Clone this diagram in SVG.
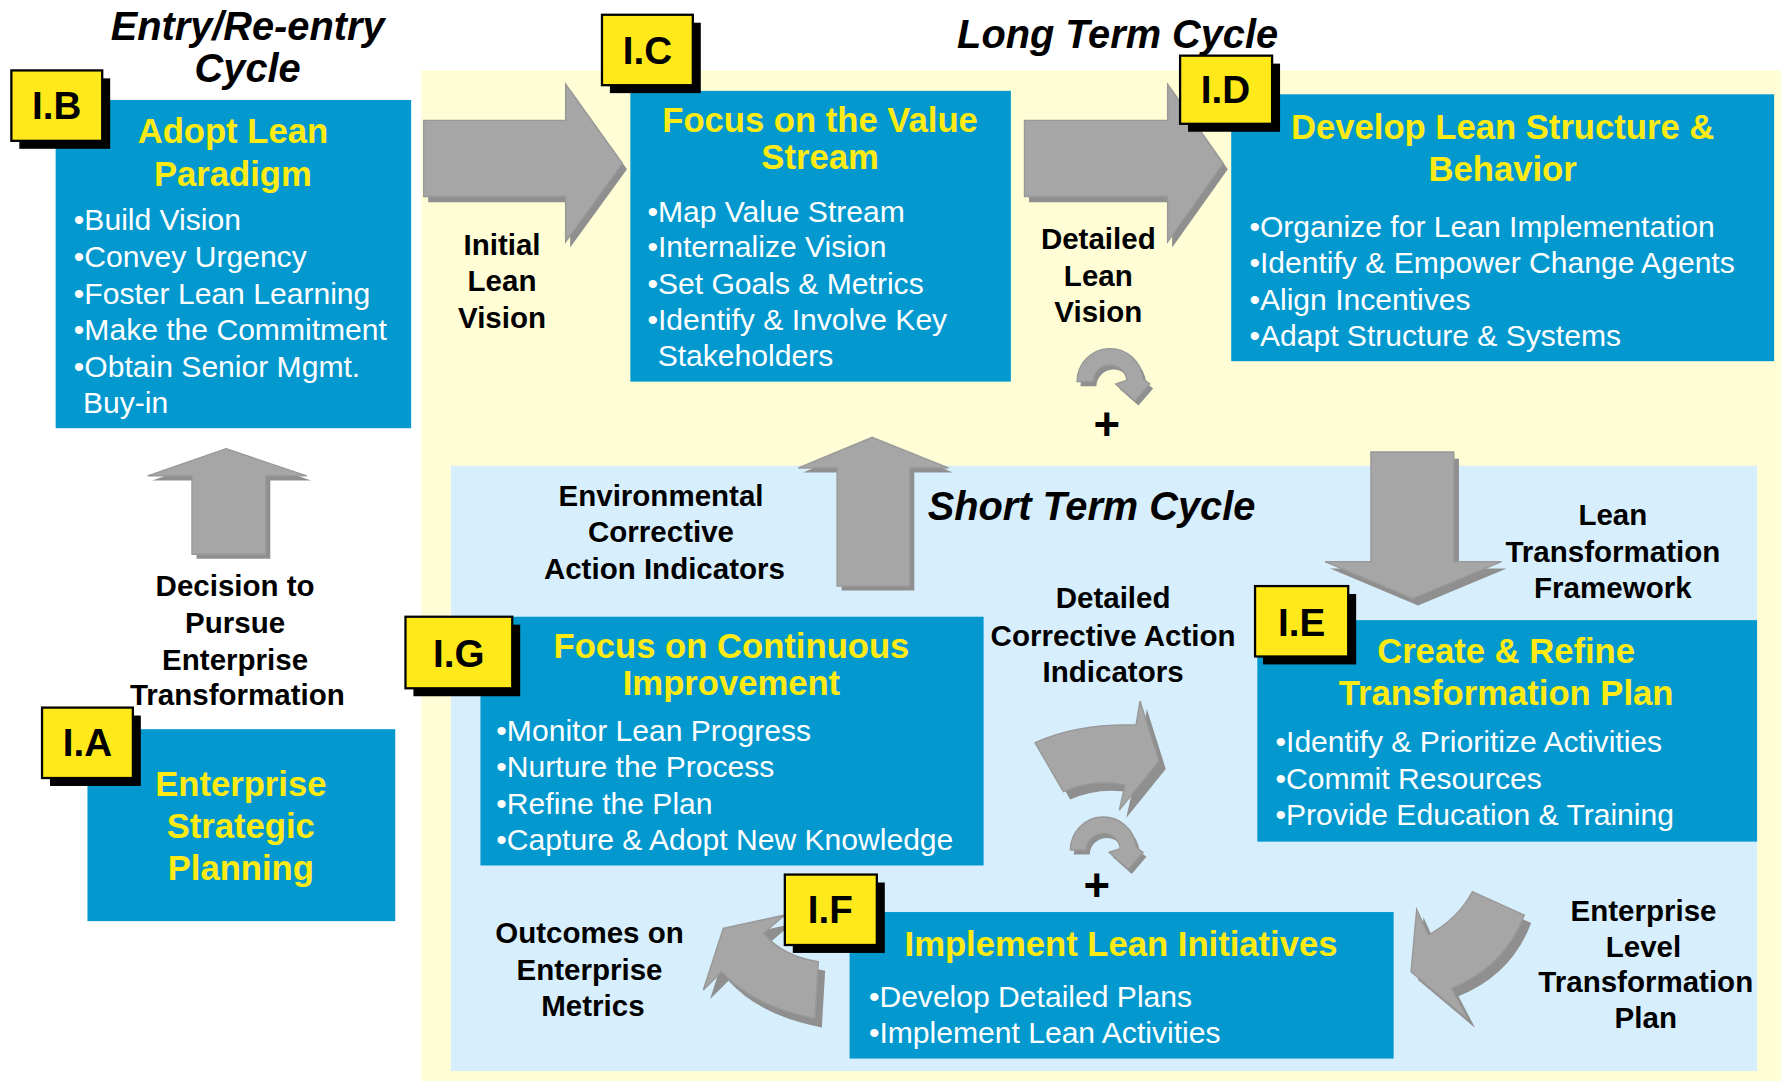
<svg xmlns="http://www.w3.org/2000/svg" width="1781" height="1081" viewBox="0 0 1781 1081">
<style>
text{font-family:"Liberation Sans",Arial,Helvetica,sans-serif}
.box{fill:#0399CF}
.tag{fill:#FFE91A;stroke:#000;stroke-width:2}
.tagsh{fill:#000}
.tagtxt{font-weight:bold;font-size:34px;fill:#000;text-anchor:middle}
.ttl{font-weight:bold;font-size:30.5px;fill:#FFEB14;text-anchor:middle}
.bul{font-size:26.5px;fill:#FFFFFF}
.lbl{font-weight:bold;font-size:26px;fill:#000;text-anchor:middle}
.cyc{font-weight:bold;font-style:italic;font-size:35px;fill:#000;text-anchor:middle}
.plus{font-weight:bold;font-size:40px;fill:#000;text-anchor:middle}
.arr{fill:#A6A6A6;stroke:#989898;stroke-width:1.2;stroke-linejoin:miter}
.arrsh{fill:#8F8F8F}
</style>
<defs>
<path id="uturn" d="M-29,0 A29,29 0 0 1 28.9,-2.5 L35,2 L22,17 L5,2 L14.9,-1.3 A15,15 0 0 0 -15,0 Z"/>
</defs>
<rect width="1781" height="1081" fill="#FFFFFF"/>
<g transform="scale(1.1358)">
<g id="backgrounds">
<rect x="371" y="62" width="1197" height="890" fill="#FFFDD6"/>
<rect x="397" y="410" width="1150" height="533" fill="#D7EEFC"/>
</g>
<g id="titles">
<text class="cyc" x="218" y="35">Entry/Re-entry</text>
<text class="cyc" x="218" y="72">Cycle</text>
<text class="cyc" x="984" y="42">Long Term Cycle</text>
<text class="cyc" x="961" y="458">Short Term Cycle</text>
</g>
<g id="connectors">
<g id="arrow-IB-IC">
<path class="arrsh" transform="translate(4,5)" d="M373,106 L498,106 L498,74 L548,144 L498,213 L498,173 L373,173 Z"/>
<path class="arr" d="M373,106 L498,106 L498,74 L548,144 L498,213 L498,173 L373,173 Z"/>
<text class="lbl" x="442" y="224.5">Initial</text>
<text class="lbl" x="442" y="256.5">Lean</text>
<text class="lbl" x="442" y="288.5">Vision</text>
</g>
<g id="arrow-IC-ID">
<path class="arrsh" transform="translate(4,5)" d="M902,106 L1028,106 L1028,74 L1077,144 L1028,213 L1028,173 L902,173 Z"/>
<path class="arr" d="M902,106 L1028,106 L1028,74 L1077,144 L1028,213 L1028,173 L902,173 Z"/>
<text class="lbl" x="967" y="219.5">Detailed</text>
<text class="lbl" x="967" y="251.5">Lean</text>
<text class="lbl" x="967" y="283.5">Vision</text>
<use href="#uturn" class="arrsh" transform="translate(980.3,340)"/>
<use href="#uturn" class="arr" transform="translate(977.3,336)"/>
<text class="plus" x="974.4" y="387">+</text>
</g>
<g id="arrow-IA-IB">
<path class="arrsh" transform="translate(4,4)" d="M199,395 L270,419 L234,419 L234,488 L169,488 L169,419 L130,419 Z"/>
<path class="arr" d="M199,395 L270,419 L234,419 L234,488 L169,488 L169,419 L130,419 Z"/>
<text class="lbl" x="207" y="524.5">Decision to</text>
<text class="lbl" x="207" y="557.5">Pursue</text>
<text class="lbl" x="207" y="589.5">Enterprise</text>
<text class="lbl" x="209" y="620.5">Transformation</text>
</g>
<g id="arrow-IG-IC">
<path class="arrsh" transform="translate(4,4)" d="M768,385 L835,412 L801,412 L801,516 L737,516 L737,412 L703,412 Z"/>
<path class="arr" d="M768,385 L835,412 L801,412 L801,516 L737,516 L737,412 L703,412 Z"/>
<text class="lbl" x="582" y="445.5">Environmental</text>
<text class="lbl" x="582" y="477.5">Corrective</text>
<text class="lbl" x="585" y="509.5">Action Indicators</text>
</g>
<g id="arrow-ID-IE">
<path class="arrsh" transform="translate(4.5,6)" d="M1207,398 L1280,398 L1280,494.5 L1322,494.5 L1244,527 L1166.6,494.5 L1207,494.5 Z"/>
<path class="arr" d="M1207,398 L1280,398 L1280,494.5 L1322,494.5 L1244,527 L1166.6,494.5 L1207,494.5 Z"/>
<text class="lbl" x="1420" y="462.5">Lean</text>
<text class="lbl" x="1420" y="494.5">Transformation</text>
<text class="lbl" x="1420" y="526.5">Framework</text>
</g>
<g id="arrow-IG-IE">
<path class="arrsh" transform="translate(6,7)" d="M911.3,653.9 Q947.9,636.9 1000.2,638.3 L1003.7,617.2 L1020.4,670 L985.5,713.2 L990.5,691.1 Q962.6,685.3 936.2,697 Z"/>
<path class="arr" d="M911.3,653.9 Q947.9,636.9 1000.2,638.3 L1003.7,617.2 L1020.4,670 L985.5,713.2 L990.5,691.1 Q962.6,685.3 936.2,697 Z"/>
<text class="lbl" x="980" y="535.5">Detailed</text>
<text class="lbl" x="980" y="568.5">Corrective Action</text>
<text class="lbl" x="980" y="600.5">Indicators</text>
<use href="#uturn" class="arrsh" transform="translate(974.4,752.4)"/>
<use href="#uturn" class="arr" transform="translate(971.4,748.4)"/>
<text class="plus" x="965.6" y="793">+</text>
</g>
<g id="arrow-IE-IF">
<path class="arrsh" transform="translate(6,7)" d="M1296.3,785.1 L1342.1,805.6 Q1325.1,851.1 1278.1,870.2 L1292.8,898 L1242.3,855.5 L1247.3,800.6 L1257.6,823.2 Q1284,808.5 1296.3,785.1 Z"/>
<path class="arr" d="M1296.3,785.1 L1342.1,805.6 Q1325.1,851.1 1278.1,870.2 L1292.8,898 L1242.3,855.5 L1247.3,800.6 L1257.6,823.2 Q1284,808.5 1296.3,785.1 Z"/>
<text class="lbl" x="1447" y="810.5">Enterprise</text>
<text class="lbl" x="1447" y="842.5">Level</text>
<text class="lbl" x="1449" y="873.5">Transformation</text>
<text class="lbl" x="1449" y="905.5">Plan</text>
</g>
<g id="arrow-IF-IG">
<path class="arrsh" transform="translate(6,8)" d="M691.1,805.6 L636.8,817.3 L619.2,871.6 L635.4,855.5 Q663.2,886.3 717.6,896.6 L720.5,846.7 Q689.7,842.3 672.1,821.7 Z"/>
<path class="arr" d="M691.1,805.6 L636.8,817.3 L619.2,871.6 L635.4,855.5 Q663.2,886.3 717.6,896.6 L720.5,846.7 Q689.7,842.3 672.1,821.7 Z"/>
<text class="lbl" x="519" y="830.5">Outcomes on</text>
<text class="lbl" x="519" y="862.5">Enterprise</text>
<text class="lbl" x="522" y="894.5">Metrics</text>
</g>
</g>
<g id="node-IA">
<rect class="box" x="77" y="642" width="271" height="169"/>
<rect class="tagsh" x="44" y="630" width="80" height="62"/>
<rect class="tag" x="37" y="623" width="80" height="62"/>
<text class="tagtxt" x="77" y="666">I.A</text>
<text class="ttl" x="212" y="701">Enterprise</text>
<text class="ttl" x="212" y="738">Strategic</text>
<text class="ttl" x="212" y="775">Planning</text>
</g>
<g id="node-IB">
<rect class="box" x="49" y="88" width="313" height="289"/>
<rect class="tagsh" x="17" y="69" width="80" height="62"/>
<rect class="tag" x="10" y="62" width="80" height="62"/>
<text class="tagtxt" x="50" y="105">I.B</text>
<text class="ttl" x="205" y="126">Adopt Lean</text>
<text class="ttl" x="205" y="164">Paradigm</text>
<text class="bul" x="65" y="202.5">•Build Vision</text>
<text class="bul" x="65" y="235.5">•Convey Urgency</text>
<text class="bul" x="65" y="267.5">•Foster Lean Learning</text>
<text class="bul" x="65" y="299.5">•Make the Commitment</text>
<text class="bul" x="65" y="331.5">•Obtain Senior Mgmt.</text>
<text class="bul" x="73" y="363.5">Buy-in</text>
</g>
<g id="node-IC">
<rect class="box" x="555" y="80" width="335" height="256"/>
<rect class="tagsh" x="537" y="20" width="80" height="62"/>
<rect class="tag" x="530" y="13" width="80" height="62"/>
<text class="tagtxt" x="570" y="56">I.C</text>
<text class="ttl" x="722" y="116">Focus on the Value</text>
<text class="ttl" x="722" y="149">Stream</text>
<text class="bul" x="570" y="195.5">•Map Value Stream</text>
<text class="bul" x="570" y="226.5">•Internalize Vision</text>
<text class="bul" x="570" y="258.5">•Set Goals &amp; Metrics</text>
<text class="bul" x="570" y="290.5">•Identify &amp; Involve Key</text>
<text class="bul" x="579" y="322.5">Stakeholders</text>
</g>
<g id="node-ID">
<rect class="box" x="1084" y="83" width="478" height="235"/>
<rect class="tagsh" x="1046" y="56" width="81" height="60"/>
<rect class="tag" x="1039" y="49" width="81" height="60"/>
<text class="tagtxt" x="1079" y="91">I.D</text>
<text class="ttl" x="1323" y="122">Develop Lean Structure &amp;</text>
<text class="ttl" x="1323" y="159">Behavior</text>
<text class="bul" x="1100" y="208.5">•Organize for Lean Implementation</text>
<text class="bul" x="1100" y="240.5">•Identify &amp; Empower Change Agents</text>
<text class="bul" x="1100" y="272.5">•Align Incentives</text>
<text class="bul" x="1100" y="304.5">•Adapt Structure &amp; Systems</text>
</g>
<g id="node-IE">
<rect class="box" x="1107" y="546" width="440" height="195"/>
<rect class="tagsh" x="1112" y="523" width="82" height="62"/>
<rect class="tag" x="1105" y="516" width="82" height="62"/>
<text class="tagtxt" x="1146" y="560">I.E</text>
<text class="ttl" x="1326" y="584">Create &amp; Refine</text>
<text class="ttl" x="1326" y="621">Transformation Plan</text>
<text class="bul" x="1123" y="662.5">•Identify &amp; Prioritize Activities</text>
<text class="bul" x="1123" y="694.5">•Commit Resources</text>
<text class="bul" x="1123" y="726.5">•Provide Education &amp; Training</text>
</g>
<g id="node-IF">
<rect class="box" x="748" y="803" width="479" height="129"/>
<rect class="tagsh" x="698" y="777" width="81" height="62"/>
<rect class="tag" x="691" y="770" width="81" height="62"/>
<text class="tagtxt" x="731" y="813">I.F</text>
<text class="ttl" x="987" y="842">Implement Lean Initiatives</text>
<text class="bul" x="765" y="886.5">•Develop Detailed Plans</text>
<text class="bul" x="765" y="918.5">•Implement Lean Activities</text>
</g>
<g id="node-IG">
<rect class="box" x="423" y="543" width="443" height="219"/>
<rect class="tagsh" x="364" y="550" width="94" height="63"/>
<rect class="tag" x="357" y="543" width="94" height="63"/>
<text class="tagtxt" x="404" y="587">I.G</text>
<text class="ttl" x="644" y="579">Focus on Continuous</text>
<text class="ttl" x="644" y="612">Improvement</text>
<text class="bul" x="437" y="652.5">•Monitor Lean Progress</text>
<text class="bul" x="437" y="684.5">•Nurture the Process</text>
<text class="bul" x="437" y="716.5">•Refine the Plan</text>
<text class="bul" x="437" y="748.5">•Capture &amp; Adopt New Knowledge</text>
</g>
</g>
</svg>
